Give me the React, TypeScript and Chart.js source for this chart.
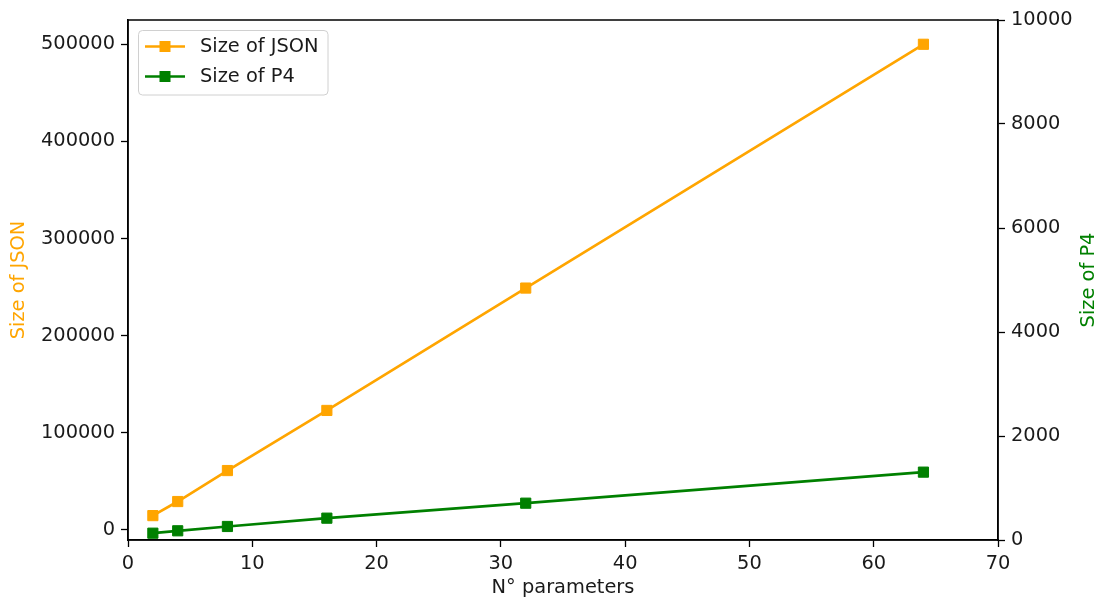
import React, { useEffect, useRef } from 'react';
import { Chart, registerables } from 'chart.js';

Chart.register(...registerables);

const nParams = [2, 4, 8, 16, 32, 64];
const jsonSizes = [14700, 29200, 61100, 123000, 249000, 500000];
const p4Sizes = [131, 177, 260, 420, 708, 1305];
const xTicks = [0, 10, 20, 30, 40, 50, 60, 70];
const leftTicks = [0, 100000, 200000, 300000, 400000, 500000];
const rightTicks = [0, 2000, 4000, 6000, 8000, 10000];

const ORANGE = '#FFA500';
const GREEN = '#008000';
const FONT = "'DejaVu Sans', sans-serif";
const FS = 19.4;

const overlayPlugin = {
  id: 'overlay',
  afterDraw(chart: any) {
    const { ctx, chartArea } = chart;
    const { left, top, right, bottom } = chartArea;
    ctx.save();
    // frame
    ctx.strokeStyle = '#000';
    ctx.lineWidth = 1.5;
    ctx.strokeRect(left, top, right - left, bottom - top);

    // axis titles
    ctx.font = `${FS}px ${FONT}`;
    ctx.textAlign = 'center';
    ctx.textBaseline = 'middle';
    const midY = (top + bottom) / 2;
    ctx.save();
    ctx.translate(19, midY);
    ctx.rotate(-Math.PI / 2);
    ctx.fillStyle = ORANGE;
    ctx.fillText('Size of JSON', 0, 0);
    ctx.restore();
    ctx.save();
    ctx.translate(1089, midY);
    ctx.rotate(-Math.PI / 2);
    ctx.fillStyle = GREEN;
    ctx.fillText('Size of P4', 0, 0);
    ctx.restore();
    ctx.fillStyle = '#1a1a1a';
    ctx.fillText('N° parameters', (left + right) / 2, 588);

    // legend
    const bx = 138.5, by = 30.5, bw = 189.5, bh = 64.5;
    ctx.beginPath();
    (ctx as any).roundRect(bx, by, bw, bh, 4);
    ctx.fillStyle = 'rgba(255,255,255,0.8)';
    ctx.fill();
    ctx.strokeStyle = '#d0d0d0';
    ctx.lineWidth = 1;
    ctx.stroke();
    const rows = [
      { label: 'Size of JSON', color: ORANGE, y: 46.5 },
      { label: 'Size of P4', color: GREEN, y: 76.5 },
    ];
    rows.forEach((r) => {
      ctx.strokeStyle = r.color;
      ctx.lineWidth = 2.7;
      ctx.beginPath();
      ctx.moveTo(145, r.y);
      ctx.lineTo(185, r.y);
      ctx.stroke();
      ctx.fillStyle = r.color;
      ctx.fillRect(159.5, r.y - 5.5, 11, 11);
      ctx.fillStyle = '#1a1a1a';
      ctx.textAlign = 'left';
      ctx.textBaseline = 'middle';
      ctx.fillText(r.label, 200, r.y);
    });
    ctx.restore();
  },
};

export default function App() {
  const canvasRef = useRef<HTMLCanvasElement | null>(null);

  useEffect(() => {
    const canvas = canvasRef.current;
    if (!canvas) return;
    const tickFont = { family: FONT, size: FS };
    const gridOpts = { drawOnChartArea: false, drawTicks: true, tickLength: 7, tickColor: '#000', tickWidth: 1.3 };
    const borderOpts = { display: true, color: '#000', width: 1.5 };
    const chart = new Chart(canvas, {
      type: 'line',
      data: {
        datasets: [
          {
            label: 'Size of JSON',
            data: nParams.map((x, i) => ({ x, y: jsonSizes[i] })),
            borderColor: ORANGE,
            backgroundColor: ORANGE,
            borderWidth: 2.7,
            pointStyle: 'rect',
            pointRadius: 7.2,
            pointBorderWidth: 1,
            pointBorderColor: ORANGE,
            pointBackgroundColor: ORANGE,
            yAxisID: 'y',
            tension: 0,
          },
          {
            label: 'Size of P4',
            data: nParams.map((x, i) => ({ x, y: p4Sizes[i] })),
            borderColor: GREEN,
            backgroundColor: GREEN,
            borderWidth: 2.7,
            pointStyle: 'rect',
            pointRadius: 7.2,
            pointBorderWidth: 1,
            pointBorderColor: GREEN,
            pointBackgroundColor: GREEN,
            yAxisID: 'y1',
            tension: 0,
          },
        ],
      },
      options: {
        responsive: false,
        animation: false,
        layout: { padding: { top: 20, left: 0, right: 0, bottom: 0 } },
        plugins: {
          legend: { display: false },
          tooltip: { enabled: false },
        },
        scales: {
          x: {
            type: 'linear',
            position: 'bottom',
            min: 0,
            max: 70,
            afterBuildTicks: (s: any) => {
              s.ticks = xTicks.map((v) => ({ value: v }));
            },
            afterFit: (s: any) => {
              s.height = 65;
            },
            grid: gridOpts,
            border: borderOpts,
            ticks: { font: tickFont, color: '#1a1a1a', padding: 5, maxRotation: 0 },
          },
          y: {
            type: 'linear',
            position: 'left',
            min: -10400,
            max: 525000,
            afterBuildTicks: (s: any) => {
              s.ticks = leftTicks.map((v) => ({ value: v }));
            },
            afterFit: (s: any) => {
              s.width = 128;
            },
            grid: gridOpts,
            border: borderOpts,
            ticks: { font: tickFont, color: '#1a1a1a', padding: 6, callback: (v: any) => String(v) },
          },
          y1: {
            type: 'linear',
            position: 'right',
            min: 0,
            max: 10000,
            afterBuildTicks: (s: any) => {
              s.ticks = rightTicks.map((v) => ({ value: v }));
            },
            afterFit: (s: any) => {
              s.width = 109;
            },
            grid: gridOpts,
            border: borderOpts,
            ticks: { font: tickFont, color: '#1a1a1a', padding: 6, callback: (v: any) => String(v) },
          },
        },
      },
      plugins: [overlayPlugin],
    } as any);
    return () => chart.destroy();
  }, []);

  return (
    <div style={{ position: 'fixed', left: 0, top: 0, width: 1107, height: 605, background: '#fff' }}>
      <canvas ref={canvasRef} width={1107} height={605} style={{ display: 'block' }} />
    </div>
  );
}
